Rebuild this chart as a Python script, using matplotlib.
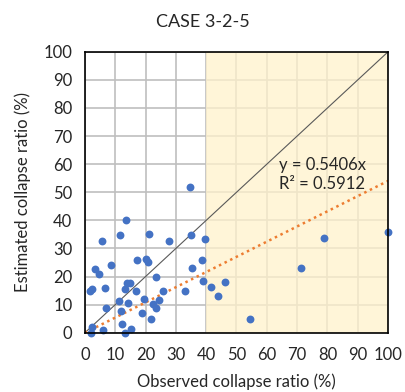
import numpy as np
import matplotlib.pyplot as plt

plt.rcParams['font.family'] = ['Lato', 'DejaVu Sans']

# observed vs estimated collapse ratio (%)
observed = [34.7, 13.5, 5.5, 11.6, 21.3, 27.8, 35.0, 39.6, 3.5, 4.5,
            8.7, 17.2, 20.0, 20.9, 35.2, 38.6, 23.5, 38.9, 1.7, 2.5,
            6.5, 14.0, 14.9, 13.3, 16.9, 25.7, 33.1, 11.2, 14.3, 19.5,
            24.6, 6.9, 12.0, 18.9, 22.4, 23.4, 21.7, 12.3, 15.2, 13.1,
            5.9, 2.0, 2.5, 41.6, 46.2, 44.0, 54.5, 71.3, 78.9, 100.0]
estimated = [52.0, 40.3, 32.5, 34.8, 35.0, 32.5, 34.8, 33.5, 22.8, 21.1,
             24.3, 25.9, 26.2, 25.3, 23.0, 25.9, 19.9, 18.3, 14.9, 15.7,
             16.1, 17.8, 17.8, 15.7, 14.9, 14.7, 14.7, 11.4, 10.7, 11.9,
             11.6, 9.0, 7.8, 7.1, 10.1, 9.0, 5.0, 3.2, 1.5, 0.1,
             0.9, 0.0, 2.0, 16.4, 18.0, 13.1, 4.8, 23.0, 33.9, 35.7]
slope = 0.5406
r2 = 0.5912
ticks = list(range(0, 101, 10))

fig = plt.figure(figsize=(4.06, 3.92), dpi=100)
ax = fig.add_axes([0.209, 0.151, 0.747, 0.717])

ax.set_xlim(0, 100)
ax.set_ylim(0, 100)
ax.set_xticks(ticks)
ax.set_yticks(ticks)
ax.grid(True, color='#BFBFBF', linewidth=1.2, zorder=0)
ax.set_axisbelow(True)

# shaded zone for observed > 40%
ax.axvspan(40, 100, color='#FFF2CC', alpha=0.75, zorder=1, linewidth=0)

# 1:1 line
ax.plot([0, 100], [0, 100], color='#595959', linewidth=0.8, zorder=2)

# trend line through origin
xs = np.array([0, 100])
ax.plot(xs, slope * xs, color='#ED7D31', linestyle=(0, (1, 1.5)), linewidth=1.8, zorder=2)

ax.scatter(observed, estimated, s=32, color='#4472C4', zorder=3, linewidths=0, clip_on=False)

ax.text(64, 62.5, 'y = 0.5406x\nR\u00b2 = %.4f' % r2, fontsize=12, va='top', ha='left',
        linespacing=1.2, color='#262626', zorder=4)

for s in ax.spines.values():
    s.set_color('black')
    s.set_linewidth(1.2)
    s.set_zorder(5)

ax.tick_params(axis='x', length=0, labelsize=12, pad=10, colors='#262626')
ax.tick_params(axis='y', length=0, labelsize=12, pad=9, colors='#262626')
ax.set_xlabel('Observed collapse ratio (%)', fontsize=12, color='#262626', labelpad=8)
ax.set_ylabel('Estimated collapse ratio (%)', fontsize=12, color='#262626', labelpad=9)
fig.text(0.5, 0.945, 'CASE 3-2-5', ha='center', va='center', fontsize=13, color='#262626')

fig.savefig('out.png', dpi=100)
